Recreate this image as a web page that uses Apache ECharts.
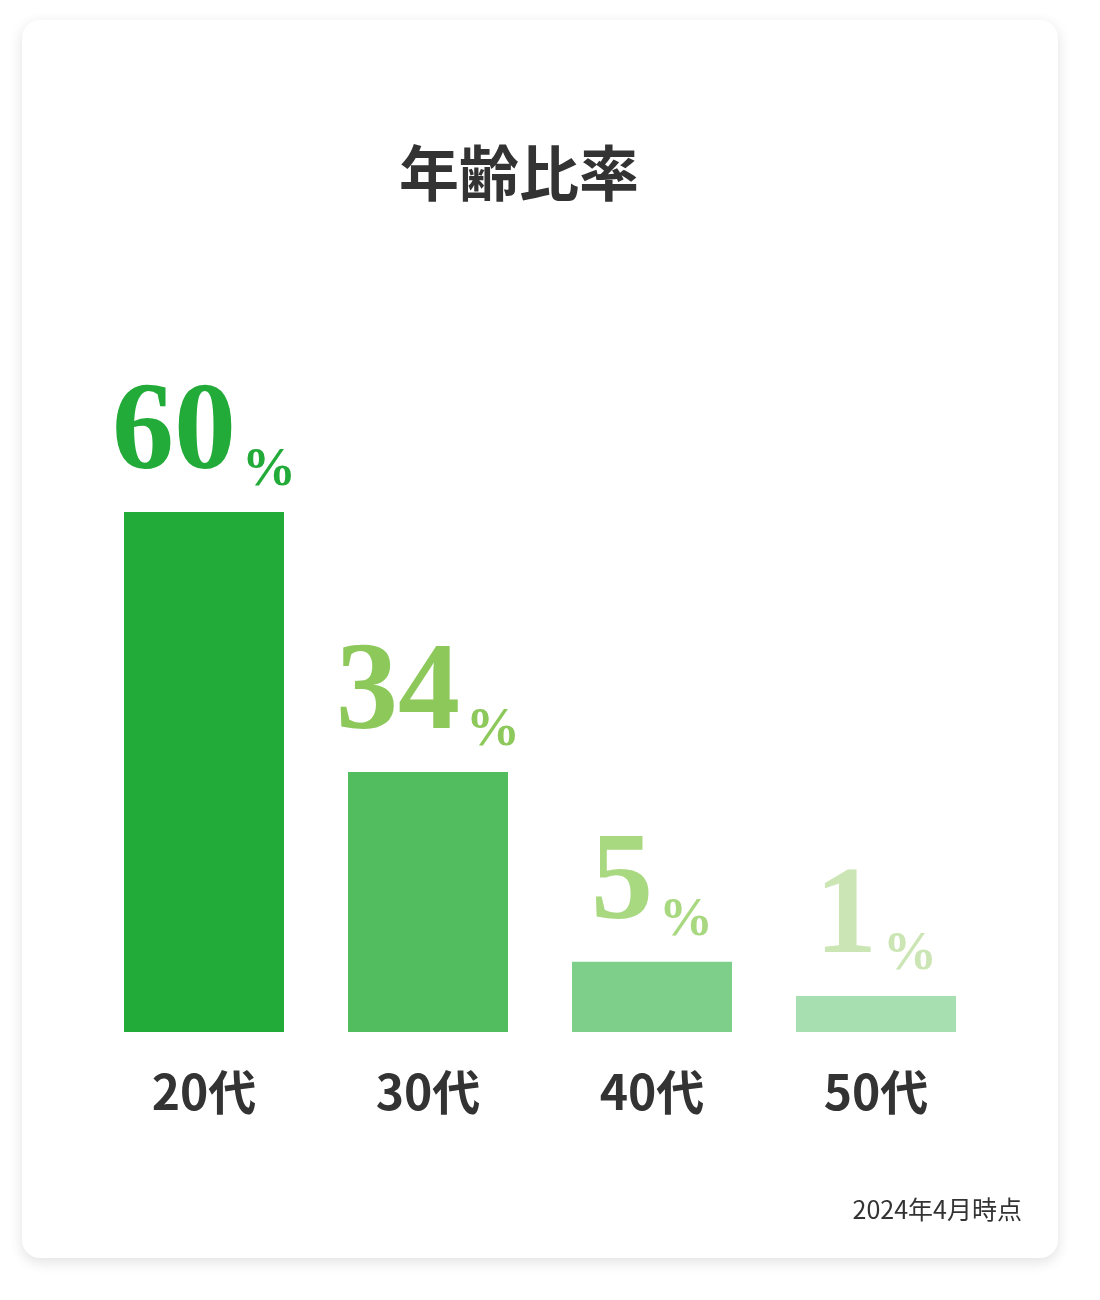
<!DOCTYPE html>
<html><head><meta charset="utf-8">
<script src="https://cdn.jsdelivr.net/npm/echarts@6/dist/echarts.min.js"></script>
<style>
html,body{margin:0;padding:0;background:#fff;}
#card{position:absolute;left:22px;top:20px;width:1036px;height:1238px;border-radius:18px;background:#fff;box-shadow:0 4px 14px rgba(0,0,0,0.12);}
#c{position:absolute;left:0;top:0;width:1100px;height:1300px;}
</style></head><body>
<div id="card"></div>
<div id="c"></div>
<script>
const categories = ['20代','30代','40代','50代'];
const percentValues = [60, 34, 5, 1];
// bar lengths as drawn in the reference (not proportional to the percentages)
const barLengths = [60, 30, 8.1, 4.15];
const barColors = ['#22ab38','#52bd5f','#7ecf8a','#a8dfb0'];
const labelColors = ['#22ab38','#8cc85a','#a8d880','#cbe6b4'];

const chart = echarts.init(document.getElementById('c'), null, {renderer:'canvas'});
chart.setOption({
  backgroundColor:'transparent',
  title:[{text:'年齢比率',left:514,top:138,textAlign:'center',
    textStyle:{fontFamily:'Noto Sans CJK JP',fontWeight:'bold',fontSize:60,color:'#333'}},
    {text:'2024年4月時点',right:73,top:1192,
    textStyle:{fontFamily:'Noto Sans CJK JP',fontWeight:'normal',fontSize:25,color:'#333'}}],
  grid:{left:92,right:112,top:512,bottom:268},
  xAxis:{type:'category',data:categories,axisLine:{show:false},axisTick:{show:false},
    axisLabel:{margin:36,fontFamily:'Noto Sans CJK JP',fontWeight:'bold',fontSize:48,color:'#333'}},
  yAxis:{type:'value',min:0,max:60,show:false,splitLine:{show:false}},
  series:[{type:'bar',barWidth:160,
    data:barLengths.map((v,i)=>({value:v,pct:percentValues[i],
      itemStyle:{color:barColors[i]},
      label:{rich:{n:{color:labelColors[i]},p:{color:labelColors[i]}}}})),
    label:{show:true,position:'top',distance:14,
      formatter:p=>'{n|'+percentValues[p.dataIndex]+'}{p|%}',
      rich:{n:{fontFamily:'Liberation Sans Narrow',fontWeight:'bold',fontSize:124,verticalAlign:'bottom'},
            p:{fontFamily:'Liberation Sans Narrow',fontWeight:'bold',fontSize:54,padding:[0,0,0,6],verticalAlign:'bottom'}}}
  }]
});
</script></body></html>
